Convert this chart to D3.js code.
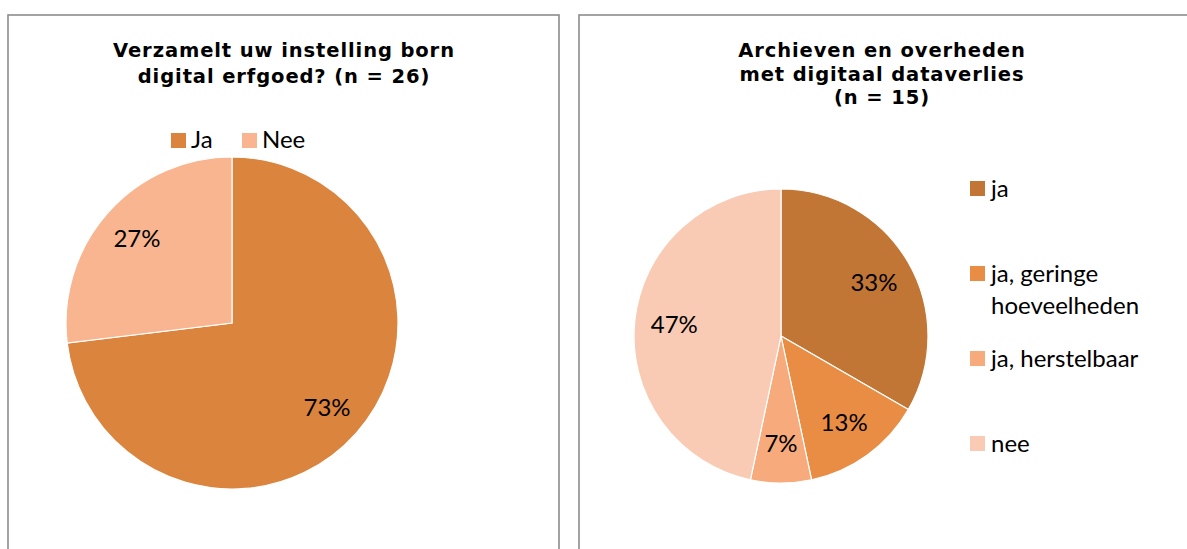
<!DOCTYPE html>
<html>
<head>
<meta charset="utf-8">
<script src="https://cdn.jsdelivr.net/npm/d3@7"></script>
<style>
  body { margin: 0; background: #fff; }
  .title { font-family: "DejaVu Sans", Verdana, sans-serif; font-weight: bold; font-size: 19.5px; letter-spacing: 0.9px; fill: #000; }
  .lbl { font-family: Lato, "Open Sans", sans-serif; font-size: 24px; fill: #000; }
</style>
</head>
<body>
<div id="chart"></div>
<script>
// chart 1: born digital
var leftTitle = ["Verzamelt uw instelling born", "digital erfgoed? (n = 26)"];
var leftCategories = ["Ja", "Nee"];
var leftValues = [19, 7];
var leftColors = ["#DB843E", "#F8B590"];

// chart 2: dataverlies
var rightTitle = ["Archieven en overheden", "met digitaal dataverlies", "(n = 15)"];
var rightCategories = ["ja", "ja, geringe hoeveelheden", "ja, herstelbaar", "nee"];
var rightValues = [5, 2, 1, 7];
var rightColors = ["#C27636", "#E88D43", "#F7AA7B", "#F9CBB4"];

var width = 1187, height = 549;
var svg = d3.select('#chart').append('svg')
    .attr('width', width)
    .attr('height', height);

// panel frames
svg.append('rect').attr('x', 8).attr('y', 15).attr('width', 551).attr('height', 560)
    .attr('fill', 'none').attr('stroke', '#8c8c8c').attr('stroke-width', 1.6);
svg.append('rect').attr('x', 579).attr('y', 15).attr('width', 640).attr('height', 560)
    .attr('fill', 'none').attr('stroke', '#8c8c8c').attr('stroke-width', 1.6);

var fmt = d3.format('.0%');

function drawPie(cfg) {
    var g = svg.append('g').attr('transform', 'translate(' + cfg.cx + ',' + cfg.cy + ')');
    var color = d3.scaleOrdinal().domain(cfg.categories).range(cfg.colors);
    var total = d3.sum(cfg.values);
    var data = cfg.categories.map(function (c, i) { return { label: c, count: cfg.values[i] }; });

    var pie = d3.pie().value(function (d) { return d.count; }).sort(null);
    var arc = d3.arc().innerRadius(0).outerRadius(cfg.r);
    var labelArc = d3.arc().innerRadius(cfg.r * cfg.lf).outerRadius(cfg.r * cfg.lf);

    g.selectAll('path')
        .data(pie(data))
        .enter()
        .append('path')
        .attr('d', arc)
        .attr('fill', function (d) { return color(d.data.label); })
        .attr('stroke', '#fff')
        .attr('stroke-width', 1.2);

    g.selectAll('text.pct')
        .data(pie(data))
        .enter()
        .append('text')
        .attr('class', 'lbl pct')
        .attr('transform', function (d) { return 'translate(' + labelArc.centroid(d) + ')'; })
        .attr('text-anchor', 'middle')
        .attr('dy', '0.36em')
        .text(function (d) { return fmt(d.data.count / total); });

    // title
    svg.append('text')
        .attr('class', 'title')
        .attr('text-anchor', 'middle')
        .selectAll('tspan')
        .data(cfg.title)
        .enter()
        .append('tspan')
        .attr('x', cfg.tx)
        .attr('y', function (d, i) { return cfg.ty + i * cfg.tstep; })
        .text(function (d) { return d; });

    return color;
}

// wrap legend text into lines no wider than maxW
function wrap(text, maxW) {
    text.each(function () {
        var t = d3.select(this);
        var words = t.text().split(/\s+/);
        var x = t.attr('x'), y = +t.attr('y');
        t.text(null);
        var line = [];
        var tspan = t.append('tspan').attr('x', x).attr('y', y);
        var n = 0;
        words.forEach(function (w) {
            line.push(w);
            tspan.text(line.join(' '));
            if (tspan.node().getComputedTextLength() > maxW && line.length > 1) {
                line.pop();
                tspan.text(line.join(' '));
                line = [w];
                n++;
                tspan = t.append('tspan').attr('x', x).attr('y', y + n * 32).text(w);
            }
        });
    });
}

// left chart
var c1 = drawPie({
    cx: 232, cy: 323, r: 166, lf: 0.765,
    categories: leftCategories, values: leftValues, colors: leftColors,
    title: leftTitle, tx: 284, ty: 57, tstep: 26
});
var legend1 = svg.selectAll('.legend1')
    .data(leftCategories)
    .enter()
    .append('g')
    .attr('class', 'legend1')
    .attr('transform', function (d, i) { return 'translate(' + (171 + i * 71) + ',133)'; });
legend1.append('rect').attr('width', 15).attr('height', 15)
    .attr('fill', function (d) { return c1(d); });
legend1.append('text').attr('class', 'lbl').attr('x', 20).attr('y', 15)
    .text(function (d) { return d; });

// right chart
var c2 = drawPie({
    cx: 781, cy: 336, r: 147, lf: 0.73,
    categories: rightCategories, values: rightValues, colors: rightColors,
    title: rightTitle, tx: 882, ty: 57, tstep: 23.5
});
var legend2 = svg.selectAll('.legend2')
    .data(rightCategories)
    .enter()
    .append('g')
    .attr('class', 'legend2')
    .attr('transform', function (d, i) { return 'translate(970,' + (181 + i * 85) + ')'; });
legend2.append('rect').attr('width', 15).attr('height', 15)
    .attr('fill', function (d) { return c2(d); });
legend2.append('text').attr('class', 'lbl').attr('x', 21).attr('y', 16)
    .text(function (d) { return d; })
    .call(wrap, 170);
</script>
</body>
</html>
